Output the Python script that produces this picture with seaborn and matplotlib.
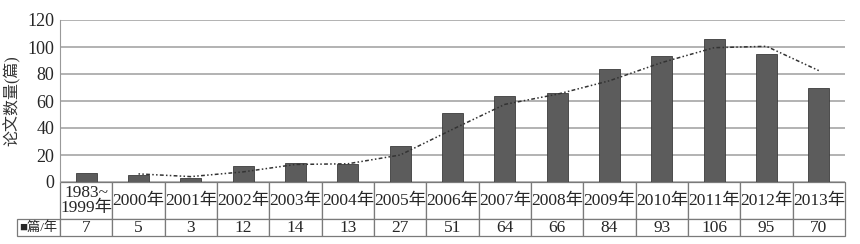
import matplotlib
matplotlib.use('Agg')
import matplotlib.pyplot as plt
import seaborn as sns

years = ['1983~\n1999年', '2000年', '2001年', '2002年', '2003年', '2004年', '2005年',
         '2006年', '2007年', '2008年', '2009年', '2010年', '2011年', '2012年', '2013年']
papers = [7, 5, 3, 12, 14, 13, 27, 51, 64, 66, 84, 93, 106, 95, 70]
# dotted trend line (2-period moving average as drawn), starts at 2000
trend = [6, 4, 7.5, 13, 13.5, 20, 39, 57.5, 65, 75, 88.5, 99.5, 100.5, 82.5]
y_ticks = [0, 20, 40, 60, 80, 100, 120]
row_label = '■篇/年'

sns.set_style('white')
plt.rcParams['font.family'] = ['Liberation Serif', 'Noto Sans CJK SC', 'DejaVu Sans']
plt.rcParams['font.size'] = 10.5

fig = plt.figure(figsize=(8.6, 2.44), dpi=100)
ax = fig.add_axes([60 / 860, 1 - 182 / 244, 785 / 860, 162 / 244])

ax.set_axisbelow(True)
ax.yaxis.grid(True, color='#b2b2b2', linewidth=1.4)
sns.barplot(x=list(range(len(papers))), y=papers, color='#5c5c5c',
            edgecolor='#3c3c3c', linewidth=0.6, width=0.4, saturation=1, ax=ax)
ax.plot(list(range(1, len(papers))), trend, color='#333333', linewidth=1.1,
        linestyle=(0, (1, 1.5, 1, 1.5, 2.5, 1.5)))

ax.set_ylim(0, 120)
ax.set_xlim(-0.5, len(papers) - 0.5)
ax.set_yticks(y_ticks)
ax.set_yticklabels([str(t) for t in y_ticks], fontsize=13)
ax.tick_params(axis='y', length=0, pad=4)
ax.set_xticks([])
ax.set_xlabel('')
ax.set_ylabel('论文数量(篇)', fontsize=11.5, labelpad=5, color='#333333')
for s in ['top', 'right', 'bottom']:
    ax.spines[s].set_visible(False)
ax.spines['left'].set_color('#999999')

n = len(papers)
row_w = 43 / 785
tbl = ax.table(cellText=[[row_label] + [str(v) for v in papers]],
               colLabels=[''] + years, colWidths=[row_w] + [1 / n] * n,
               cellLoc='center',
               bbox=[-row_w, -54 / 162, 1 + row_w, 54 / 162])
tbl.auto_set_font_size(False)
tbl.set_fontsize(12.5)
for (r, c), cell in tbl.get_celld().items():
    cell.set_edgecolor('#7a7a7a')
    cell.set_linewidth(0.9)
    cell.set_height(37 if r == 0 else 17)
    cell.PAD = 0.02
    if c == 0:
        if r == 0:
            cell.visible_edges = 'open'
        else:
            cell.get_text().set_fontsize(9.5)
    elif r == 0 and c == 1:
        cell.get_text().set_linespacing(0.95)

fig.savefig('out.png', dpi=100)
